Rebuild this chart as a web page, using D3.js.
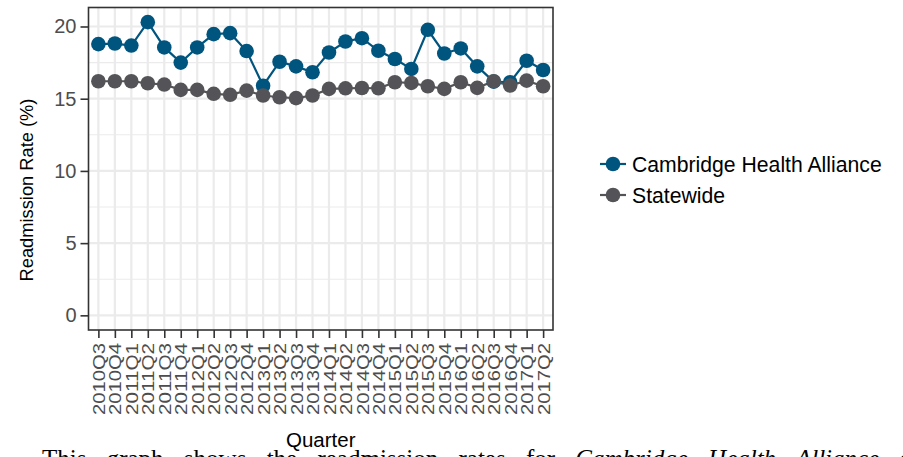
<!DOCTYPE html>
<html>
<head>
<meta charset="utf-8">
<script src="https://cdn.jsdelivr.net/npm/d3@7"></script>
<style>
html,body{margin:0;padding:0;background:#fff;}
svg{display:block;}
</style>
</head>
<body>
<svg id="chart" width="903" height="457"></svg>
<script>
const quarters = ["2010Q3","2010Q4","2011Q1","2011Q2","2011Q3","2011Q4","2012Q1","2012Q2","2012Q3","2012Q4",
  "2013Q1","2013Q2","2013Q3","2013Q4","2014Q1","2014Q2","2014Q3","2014Q4","2015Q1","2015Q2",
  "2015Q3","2015Q4","2016Q1","2016Q2","2016Q3","2016Q4","2017Q1","2017Q2"];
const chaValues = [18.78,18.82,18.68,20.3,18.55,17.5,18.55,19.47,19.54,18.3,
  15.9,17.56,17.24,16.83,18.2,18.96,19.19,18.32,17.75,17.06,
  19.77,18.13,18.48,17.24,16.18,16.14,17.63,16.99];
const stateValues = [16.21,16.21,16.21,16.07,15.98,15.61,15.61,15.34,15.27,15.56,
  15.22,15.1,15.04,15.22,15.68,15.72,15.74,15.72,16.14,16.09,
  15.86,15.68,16.14,15.75,16.21,15.91,16.25,15.86];
const seriesNames = ["Cambridge Health Alliance","Statewide"];
const seriesColors = ["#00557f","#545458"];
const yTicks = [0,5,10,15,20];
const yMinor = [2.5,7.5,12.5,17.5];
const captionParts = [
  {t:"This graph shows the readmission rates for ", i:false},
  {t:"Cambridge Health Alliance", i:true},
  {t:" compared to statewide", i:false}
];

const FONT = "Liberation Sans, Arial, sans-serif";
const svg = d3.select("#chart");
const P = {left:88.5, right:553, top:7.5, bottom:330};

const yMax = d3.max(chaValues.concat(stateValues));
const yr = yMax - 0;
const y = d3.scaleLinear().domain([0 - 0.05*yr, yMax + 0.05*yr]).range([P.bottom, P.top]);
const x = d3.scalePoint().domain(quarters).range([P.left, P.right]).padding(0.6);

// grid
const g = svg.append("g");
g.selectAll(".ymin").data(yMinor).enter().append("line")
  .attr("x1",P.left).attr("x2",P.right).attr("y1",d=>y(d)).attr("y2",d=>y(d))
  .attr("stroke","#ebebeb").attr("stroke-width",1.1);
g.selectAll(".ymaj").data(yTicks).enter().append("line")
  .attr("x1",P.left).attr("x2",P.right).attr("y1",d=>y(d)).attr("y2",d=>y(d))
  .attr("stroke","#ebebeb").attr("stroke-width",2.2);
g.selectAll(".xmaj").data(quarters).enter().append("line")
  .attr("x1",d=>x(d)).attr("x2",d=>x(d)).attr("y1",P.top).attr("y2",P.bottom)
  .attr("stroke","#ebebeb").attr("stroke-width",2.2);

// series
const series = [chaValues, stateValues];
[0,1].forEach(si=>{
  const vals = series[si];
  const line = d3.line().x((d,i)=>x(quarters[i])).y(d=>y(d));
  svg.append("path").datum(vals).attr("d",line).attr("fill","none")
    .attr("stroke",seriesColors[si]).attr("stroke-width",2.2);
});
[0,1].forEach(si=>{
  const vals = series[si];
  svg.append("g").selectAll("circle").data(vals).enter().append("circle")
    .attr("cx",(d,i)=>x(quarters[i])).attr("cy",d=>y(d)).attr("r",7.3)
    .attr("fill",seriesColors[si]);
});

// panel border
svg.append("rect").attr("x",P.left).attr("y",P.top).attr("width",P.right-P.left).attr("height",P.bottom-P.top)
  .attr("fill","none").attr("stroke","#333333").attr("stroke-width",1.6);

// axes
const yAxis = d3.axisLeft(y).tickValues(yTicks).tickSize(8).tickPadding(4);
const ya = svg.append("g").attr("transform",`translate(${P.left},0)`).call(yAxis);
ya.select(".domain").remove();
ya.selectAll(".tick line").attr("stroke","#333333").attr("stroke-width",1.6);
ya.selectAll(".tick text").attr("fill","#4d4d4d").style("font-family",FONT).style("font-size","20px");

const xAxis = d3.axisBottom(x).tickSize(8).tickPadding(4);
const xa = svg.append("g").attr("transform",`translate(0,${P.bottom})`).call(xAxis);
xa.select(".domain").remove();
xa.selectAll(".tick line").attr("stroke","#333333").attr("stroke-width",1.6);
xa.selectAll(".tick text").attr("fill","#4d4d4d").style("font-family",FONT).style("font-size","17px")
  .attr("transform","rotate(-90)").attr("x",-13).attr("y",0).attr("dy","0.36em").attr("text-anchor","end")
  .attr("textLength",72).attr("lengthAdjust","spacingAndGlyphs");

// axis titles
svg.append("text").attr("transform",`translate(33,190) rotate(-90)`)
  .attr("text-anchor","middle").style("font-family",FONT).style("font-size","18.3px")
  .attr("fill","#000").text("Readmission Rate (%)");
svg.append("text").attr("x",(P.left+P.right)/2).attr("y",447)
  .attr("text-anchor","middle").style("font-family",FONT).style("font-size","20.5px")
  .attr("fill","#000").text("Quarter");

// legend
const lg = svg.append("g");
seriesNames.forEach((n,i)=>{
  const cy = 164 + i*31;
  lg.append("line").attr("x1",600).attr("x2",626).attr("y1",cy).attr("y2",cy)
    .attr("stroke",seriesColors[i]).attr("stroke-width",2.2);
  lg.append("circle").attr("cx",613).attr("cy",cy).attr("r",7.3).attr("fill",seriesColors[i]);
  lg.append("text").attr("x",632).attr("y",cy).attr("dy","0.36em")
    .style("font-family",FONT).style("font-size","21.2px")
    .attr("fill","#000").text(n);
});

// caption (cut off at bottom, as in the reference)
const cap = svg.append("text").attr("x",42).attr("y",467)
  .style("font-family","Liberation Serif, Times New Roman, serif").style("font-size","25px")
  .style("word-spacing","14px").attr("fill","#000");
captionParts.forEach(p=>{
  cap.append("tspan").style("font-style",p.i?"italic":"normal").text(p.t);
});
</script>
</body>
</html>
